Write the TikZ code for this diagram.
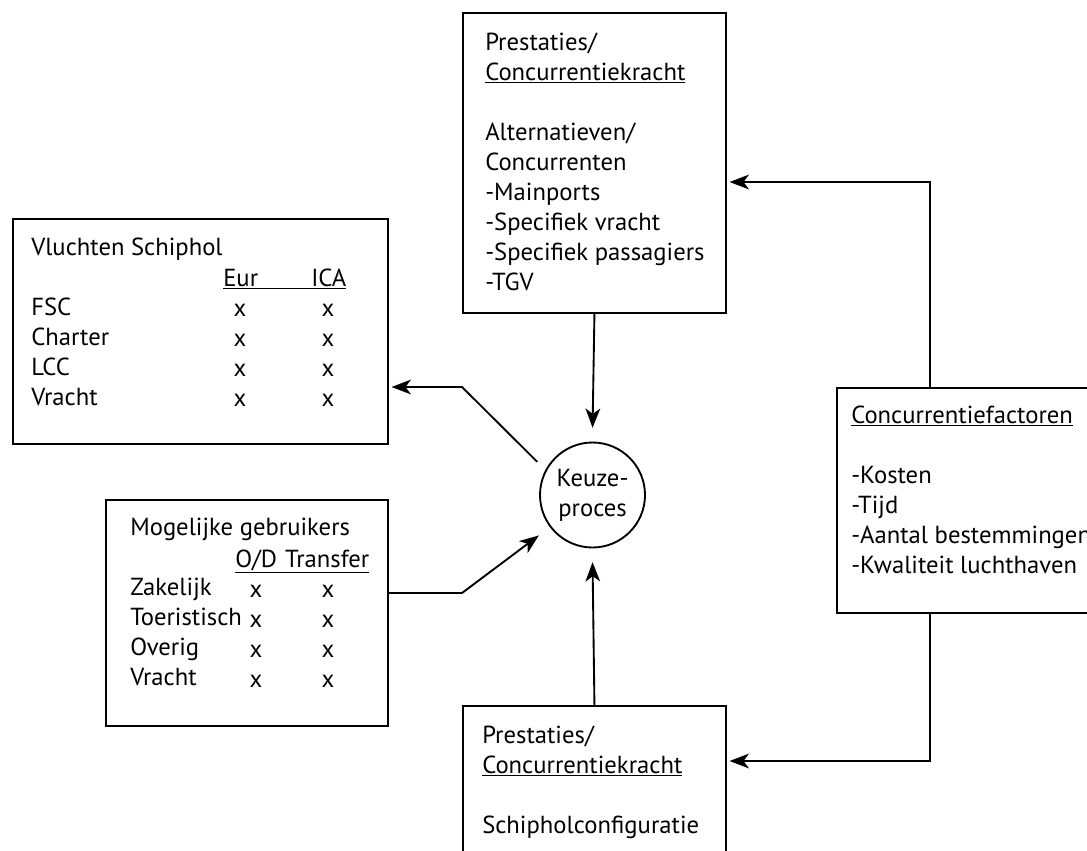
\documentclass[tikz,border=0pt]{standalone}
\usepackage{fontspec}
\setsansfont{PT Sans}
\usetikzlibrary{arrows.meta}

\begin{document}
\begin{tikzpicture}[x=0.75pt, y=-0.75pt, font=\sffamily\fontsize{18.5}{22.5}\selectfont,
      >={Stealth[length=14.5pt, width=11pt, inset=4pt]},
      box/.style={draw, line width=1.4pt, anchor=north west, inner sep=0pt},
      txt/.style={anchor=base west, inner sep=0pt, align=left},
      col/.style={anchor=base, inner sep=0pt, align=center},
      kring/.style={draw, circle, line width=1.4pt, minimum size=78.75pt, inner sep=0pt, outer sep=9pt, align=center},
      conn/.style={->, line width=1.4pt, shorten >=2pt}]
    \path[use as bounding box, clip] (0,0) rectangle (1087,850);
    \node[box, minimum width=281.25pt, minimum height=168.75pt] (vl) at (12,218)  {};
    \node[box, minimum width=211.5pt,  minimum height=169.5pt]  (mg) at (105,499) {};
    \node[box, minimum width=197.25pt, minimum height=225pt]    (tp) at (462,12)  {};
    \node[box, minimum width=197.25pt, minimum height=127.5pt]  (bt) at (462,705) {};
    \node[box, minimum width=210pt,    minimum height=168.75pt] (cf) at (836,387) {};
    \node[kring] (keuze) at (592.5,495) {Keuze-\\proces};
    \node[txt] (vltxt) at (31,405) {Vluchten Schiphol\\\mbox{}\\FSC\\Charter\\LCC\\Vracht};
    \node[txt] (vlkop) at (223,286) {\underline{\makebox[92.25pt]{Eur\hfill ICA}}};
    \node[col] (vleur) at (240,406) {x\\x\\x\\x};
    \node[col] (vlica) at (328,406) {x\\x\\x\\x};
    \node[txt] (mgtxt) at (130,685) {Mogelijke gebruikers\\\mbox{}\\Zakelijk\\Toeristisch\\Overig\\Vracht};
    \node[txt] (mgkop) at (235,567) {\underline{\makebox[100.5pt]{O/D\hfill Transfer}}};
    \node[col] (mgod)  at (256,687) {x\\x\\x\\x};
    \node[col] (mgtr)  at (328,687) {x\\x\\x\\x};
    \node[txt] (tptxt) at (485,290) {Prestaties/\\\underline{Concurrentiekracht}\\\mbox{}\\Alternatieven/\\Concurrenten\\-Mainports\\-Specifiek vracht\\-Specifiek passagiers\\-TGV};
    \node[txt] (bttxt) at (482,833) {Prestaties/\\\underline{Concurrentiekracht}\\\mbox{}\\Schipholconfiguratie};
    \node[txt] (cftxt) at (851,573) {\underline{Concurrentiefactoren}\\\mbox{}\\-Kosten\\-Tijd\\-Aantal bestemmingen\\-Kwaliteit luchthaven};
    \coordinate (kb) at (930,182);
    \coordinate (ko) at (930,761);
    \coordinate (kl) at (462,387);
    \coordinate (km) at (462,593);
    \draw[conn] (cf.north -| kb) -- (kb) -- (tp.east |- kb);
    \draw[conn] (cf.south -| ko) -- (ko) -- (bt.east |- ko);
    \draw[conn] (tp.south) -- (keuze.north);
    \draw[conn] (bt.north) -- (keuze.south);
    \draw[conn] (keuze.149) -- (kl) -- (vl.east |- kl);
    \draw[conn] (mg.east |- km) -- (km) -- (keuze.217);
  \end{tikzpicture}
\end{document}
